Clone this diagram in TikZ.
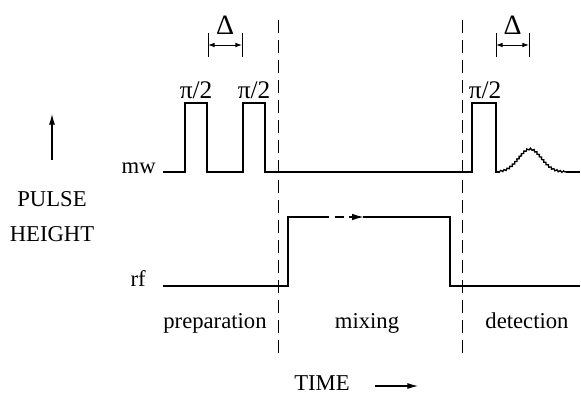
\documentclass[tikz,border=0pt]{standalone}
\usepackage{fontspec}
\setmainfont{Liberation Serif}
\usetikzlibrary{arrows.meta, positioning, decorations.pathmorphing}

\begin{document}
\begin{tikzpicture}[
  x=0.75pt, y=-0.75pt,
  trace/.style={line width=1.2pt, line join=miter},
  divider/.style={dash pattern=on 10pt off 5pt, line width=0.7pt},
  arrow/.style={-{Latex[length=8pt, width=4.5pt]}, line width=0.8pt},
  span/.style={{Latex[length=5pt, width=3.5pt]}-{Latex[length=5pt, width=3.5pt]},
    line width=0.7pt},
  txt/.style={font=\fontsize{17}{20}\selectfont, inner sep=0pt, anchor=base},
  angle/.style={font=\fontsize{19}{22}\selectfont, inner sep=0pt, anchor=base}
]
\useasboundingbox (0,0) rectangle (581,394);

% Axis labels
\node[txt] (pulse)  at (52,206) {PULSE};
\node[txt] (height) at (52,241) {HEIGHT};
\coordinate (up) at (52,114);
\draw[arrow] (52,160) -- (up);

\node[txt] (time) at (322,390) {TIME};
\coordinate (later) at (418,386);
\draw[arrow] ([xshift=19pt]time.east |- later) -- (later);

% Channel names
\node[txt, anchor=base east] (mw) at (156,173) {mw};
\node[txt, anchor=base east] (rf) at (146,286) {rf};

% Period dividers
\draw[divider] (278,20) -- (278,356);
\draw[divider] (462,20) -- (462,356);

\node[txt] (prep)   at (215,328) {preparation};
\node[txt] (mixing) at (367,328) {mixing};
\node[txt] (detect) at (527,328) {detection};

% mw channel
\draw[trace] (163,172) -- (185,172) -- (185,103) -- (207,103) -- (207,172)
  -- (243,172) -- (243,103) -- (265,103) -- (265,172)
  -- (472,172) -- (472,103) -- (496,103) -- (496,172) -- (500,172);
\draw[line width=1pt, decorate,
      decoration={zigzag, segment length=2.6pt, amplitude=0.6pt}]
  plot[domain=500:566, samples=40] (\x, {172-23*exp(-((\x-530)/16)^2)});
\draw[trace] (566,172) -- (580,172);

\node[angle] (p1) at (196,98) {π/2};
\node[angle] (p2) at (254,98) {π/2};
\node[angle] (p3) at (485,98) {π/2};

% pulse spacing
\foreach \a/\b/\n in {208/242/d1, 496/529/d2}{
  \draw[line width=0.7pt] (\a,33) -- (\a,57);
  \draw[line width=0.7pt] (\b,33) -- (\b,57);
  \coordinate (\n l) at (\a,45);
  \coordinate (\n r) at (\b,45);
  \draw[span] (\n l) -- (\n r);
  \node[angle, font=\fontsize{21}{24}\selectfont] (\n) at ({(\a+\b)/2},34) {Δ};
}

% rf channel
\draw[trace] (163,286) -- (288,286) -- (288,217) -- (320,217);
\draw[trace, dashed, dash pattern=on 7pt off 4pt,
      -{Latex[length=9pt, width=5pt]}] (320,217) -- (364,217);
\draw[trace] (363,217) -- (450,217) -- (450,286) -- (580,286);

\end{tikzpicture}
\end{document}
